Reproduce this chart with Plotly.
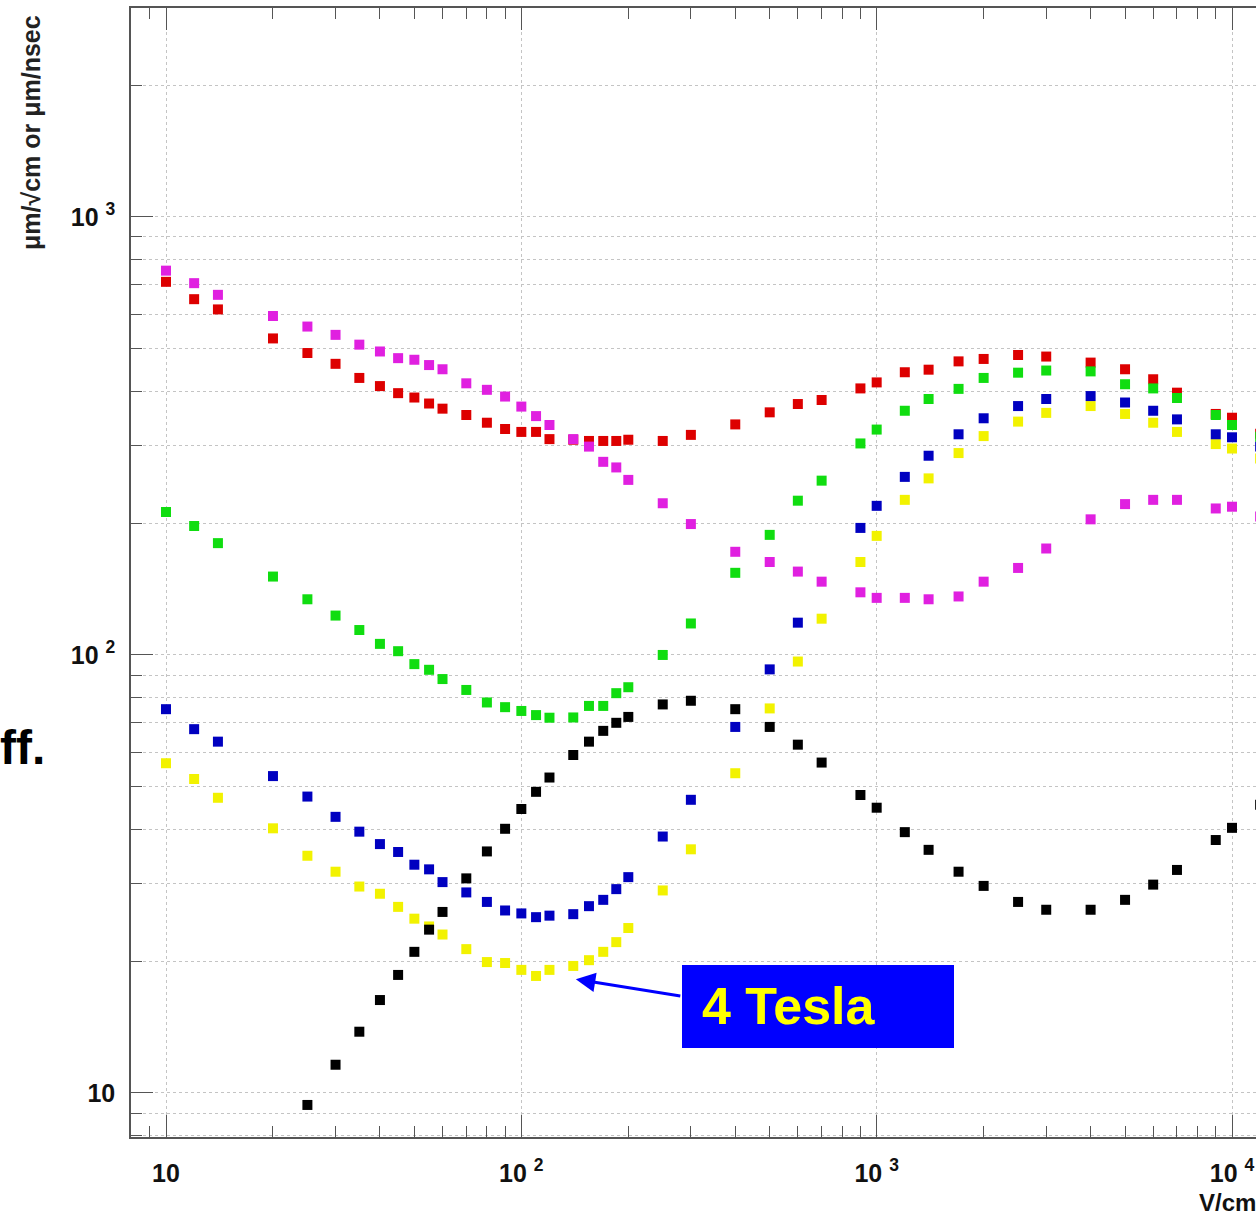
import plotly.graph_objects as go

# Electric field (V/cm)
field = [10, 12, 14, 20, 25, 30, 35, 40, 45, 50, 55, 60, 70, 80, 90, 100, 110, 120, 140, 155,
         170, 185, 200, 250, 300, 400, 500, 600, 700, 900, 1000, 1200, 1400, 1700, 2000, 2500,
         3000, 4000, 5000, 6000, 7000, 9000, 10000, 12000]

red = [711, 649, 615, 528, 489, 462, 429, 411, 396, 387, 375, 365, 353, 339, 328, 323, 323, 311, 310, 308,
       308, 308, 310, 308, 318, 336, 358, 374, 382, 406, 419, 442, 448, 468, 474, 484,
       480, 465, 449, 426, 397, 355, 348, 320]

magenta = [754, 706, 664, 594, 562, 538, 511, 493, 476, 472, 459, 449, 417, 403, 389, 369, 351, 335, 311, 299,
           276, 268, 251, 222, 199, 172, 163, 155, 147, 139, 135, 135, 134, 136, 147, 158,
           175, 204, 221, 226, 226, 216, 218, 207]

green = [212, 197, 180, 151, 134, 123, 114, 106, 102, 95.3, 92.5, 88.1, 83.2, 77.9, 76.0, 74.5, 72.9, 71.9, 72.0, 76.5,
         76.5, 81.8, 84.4, 100, 118, 154, 188, 225, 250, 304, 327, 361, 384, 405, 429, 441,
         446, 444, 415, 406, 386, 353, 335, 315]

blue = [75.2, 67.7, 63.4, 52.9, 47.5, 42.7, 39.5, 37.0, 35.5, 33.2, 32.4, 30.3, 28.7, 27.3, 26.1, 25.7, 25.2, 25.4, 25.6, 26.7,
        27.6, 29.2, 31.1, 38.5, 46.7, 68.5, 92.7, 118.5, None, 195, 219, 255, 285, 319, 347, 370,
        384, 390, 377, 361, 345, 319, 314, 299]

yellow = [56.6, 52.1, 47.2, 40.2, 34.8, 32.0, 29.6, 28.5, 26.6, 25.0, 24.0, 23.0, 21.3, 19.9, 19.8, 19.1, 18.5, 19.1, 19.5, 20.1,
          21.0, 22.1, 23.8, 29.0, 36.0, 53.7, 75.5, 96.6, 121, 163, 187, 226, 253, 289, 316, 341,
          357, 370, 355, 339, 323, 303, 296, 281]

black = [None, None, None, None, 9.39, 11.6, 13.8, 16.3, 18.6, 21.0, 23.6, 25.9, 30.9, 35.6, 40.1, 44.5, 48.7, 52.5, 59.1, 63.4,
         67.1, 70.0, 72.2, 77.1, 78.6, 75.2, 68.5, 62.4, 56.8, 47.9, 44.8, 39.4, 35.9, 32.0, 29.7, 27.3,
         26.2, 26.2, 27.6, 29.9, 32.3, 37.8, 40.3, 45.5]

x_major = [10, 100, 1000, 10000]
x_major_text = ["10", "10 <sup>2</sup>", "10 <sup>3</sup>", "10 <sup>4</sup>"]
y_major = [10, 100, 1000]
y_major_text = ["10", "10 <sup>2</sup>", "10 <sup>3</sup>"]
x_minor = [8, 9] + [m * 10 ** d for d in (1, 2, 3) for m in range(2, 10)] + [20000]
y_minor = [8, 9] + [m * 10 ** d for d in (1, 2) for m in range(2, 10)] + [2000, 3000]

series = [
    ("yellow", yellow, "#f2f200"),
    ("blue", blue, "#0000c0"),
    ("red", red, "#dd0000"),
    ("magenta", magenta, "#e020e0"),
    ("green", green, "#10dd10"),
    ("black", black, "#000000"),
]

FONT = "Liberation Sans, Arial, sans-serif"
fig = go.Figure()
for name, vals, col in series:
    fig.add_trace(go.Scatter(x=field, y=vals, mode="markers", name=name,
                             marker=dict(symbol="square", size=10, color=col, line=dict(width=0))))

axcol = "#555555"
gridcol = "#c4c4c4"
fig.update_xaxes(type="log", range=[0.9015, 4.0675], tickmode="array", tickvals=x_major,
                 ticktext=x_major_text, ticks="inside", ticklen=22, tickwidth=1, tickcolor=axcol,
                 showline=True, linecolor=axcol, linewidth=1.5, mirror="ticks",
                 showgrid=True, gridcolor=gridcol, griddash="dot", gridwidth=1, zeroline=False,
                 tickfont=dict(family=FONT, size=25, color="#111111", weight="bold"),
                 ticklabelstandoff=13,
                 minor=dict(tickmode="array", tickvals=x_minor, ticks="inside", ticklen=11,
                            tickcolor=axcol, showgrid=False))
fig.update_yaxes(type="log", range=[0.8995, 3.477], tickmode="array", tickvals=y_major,
                 ticktext=y_major_text, ticks="inside", ticklen=22, tickwidth=1, tickcolor=axcol,
                 showline=True, linecolor=axcol, linewidth=1.5, mirror=False,
                 showgrid=True, gridcolor=gridcol, griddash="dot", gridwidth=1, zeroline=False,
                 tickfont=dict(family=FONT, size=25, color="#111111", weight="bold"),
                 ticklabelstandoff=9,
                 minor=dict(tickmode="array", tickvals=y_minor, ticks="inside", ticklen=11,
                            tickcolor=axcol, showgrid=True, gridcolor=gridcol, griddash="dot"))

W0, T0, H0, WW = 131, 8, 1129, 1125
def px(x):
    return (x - W0) / WW
def py(y):
    return (T0 + H0 - y) / H0

fig.add_shape(type="rect", xref="paper", yref="paper", x0=px(682), x1=px(954), y0=py(1048), y1=py(965),
              fillcolor="#0000ff", line=dict(width=0), layer="above")

annotations = [
    dict(text="μm/√cm or μm/nsec", x=px(31), y=py(133), xref="paper", yref="paper", textangle=-90,
         showarrow=False, xanchor="center", yanchor="middle",
         font=dict(family=FONT, size=25, color="#222222", weight="bold")),
    dict(text="ff.", x=px(-2), y=py(747), xref="paper", yref="paper", showarrow=False,
         xanchor="left", yanchor="middle", font=dict(family=FONT, size=48, color="#000000", weight="bold")),
    dict(text="V/cm", x=px(1197), y=py(1202), xref="paper", yref="paper", showarrow=False,
         xanchor="left", yanchor="middle", font=dict(family=FONT, size=24, color="#111111", weight="bold")),
    dict(text="4 Tesla", x=px(700), y=py(1006), xref="paper", yref="paper", showarrow=False,
         xanchor="left", yanchor="middle", font=dict(family=FONT, size=52, color="#ffff00", weight="bold")),
    dict(text="", x=2.1533, y=1.2596, xref="x", yref="y", showarrow=True, ax=106, ay=17,
         arrowcolor="#0000ff", arrowwidth=3, arrowhead=2, arrowsize=1.3, standoff=0, startstandoff=0),
]
fig.update_layout(width=1256, height=1215, autosize=False,
                  margin=dict(l=W0, r=0, t=T0, b=1215 - T0 - H0, pad=0),
                  paper_bgcolor="white", plot_bgcolor="white", showlegend=False,
                  annotations=annotations)

fig.write_html("out.html", config={"displayModeBar": False})
